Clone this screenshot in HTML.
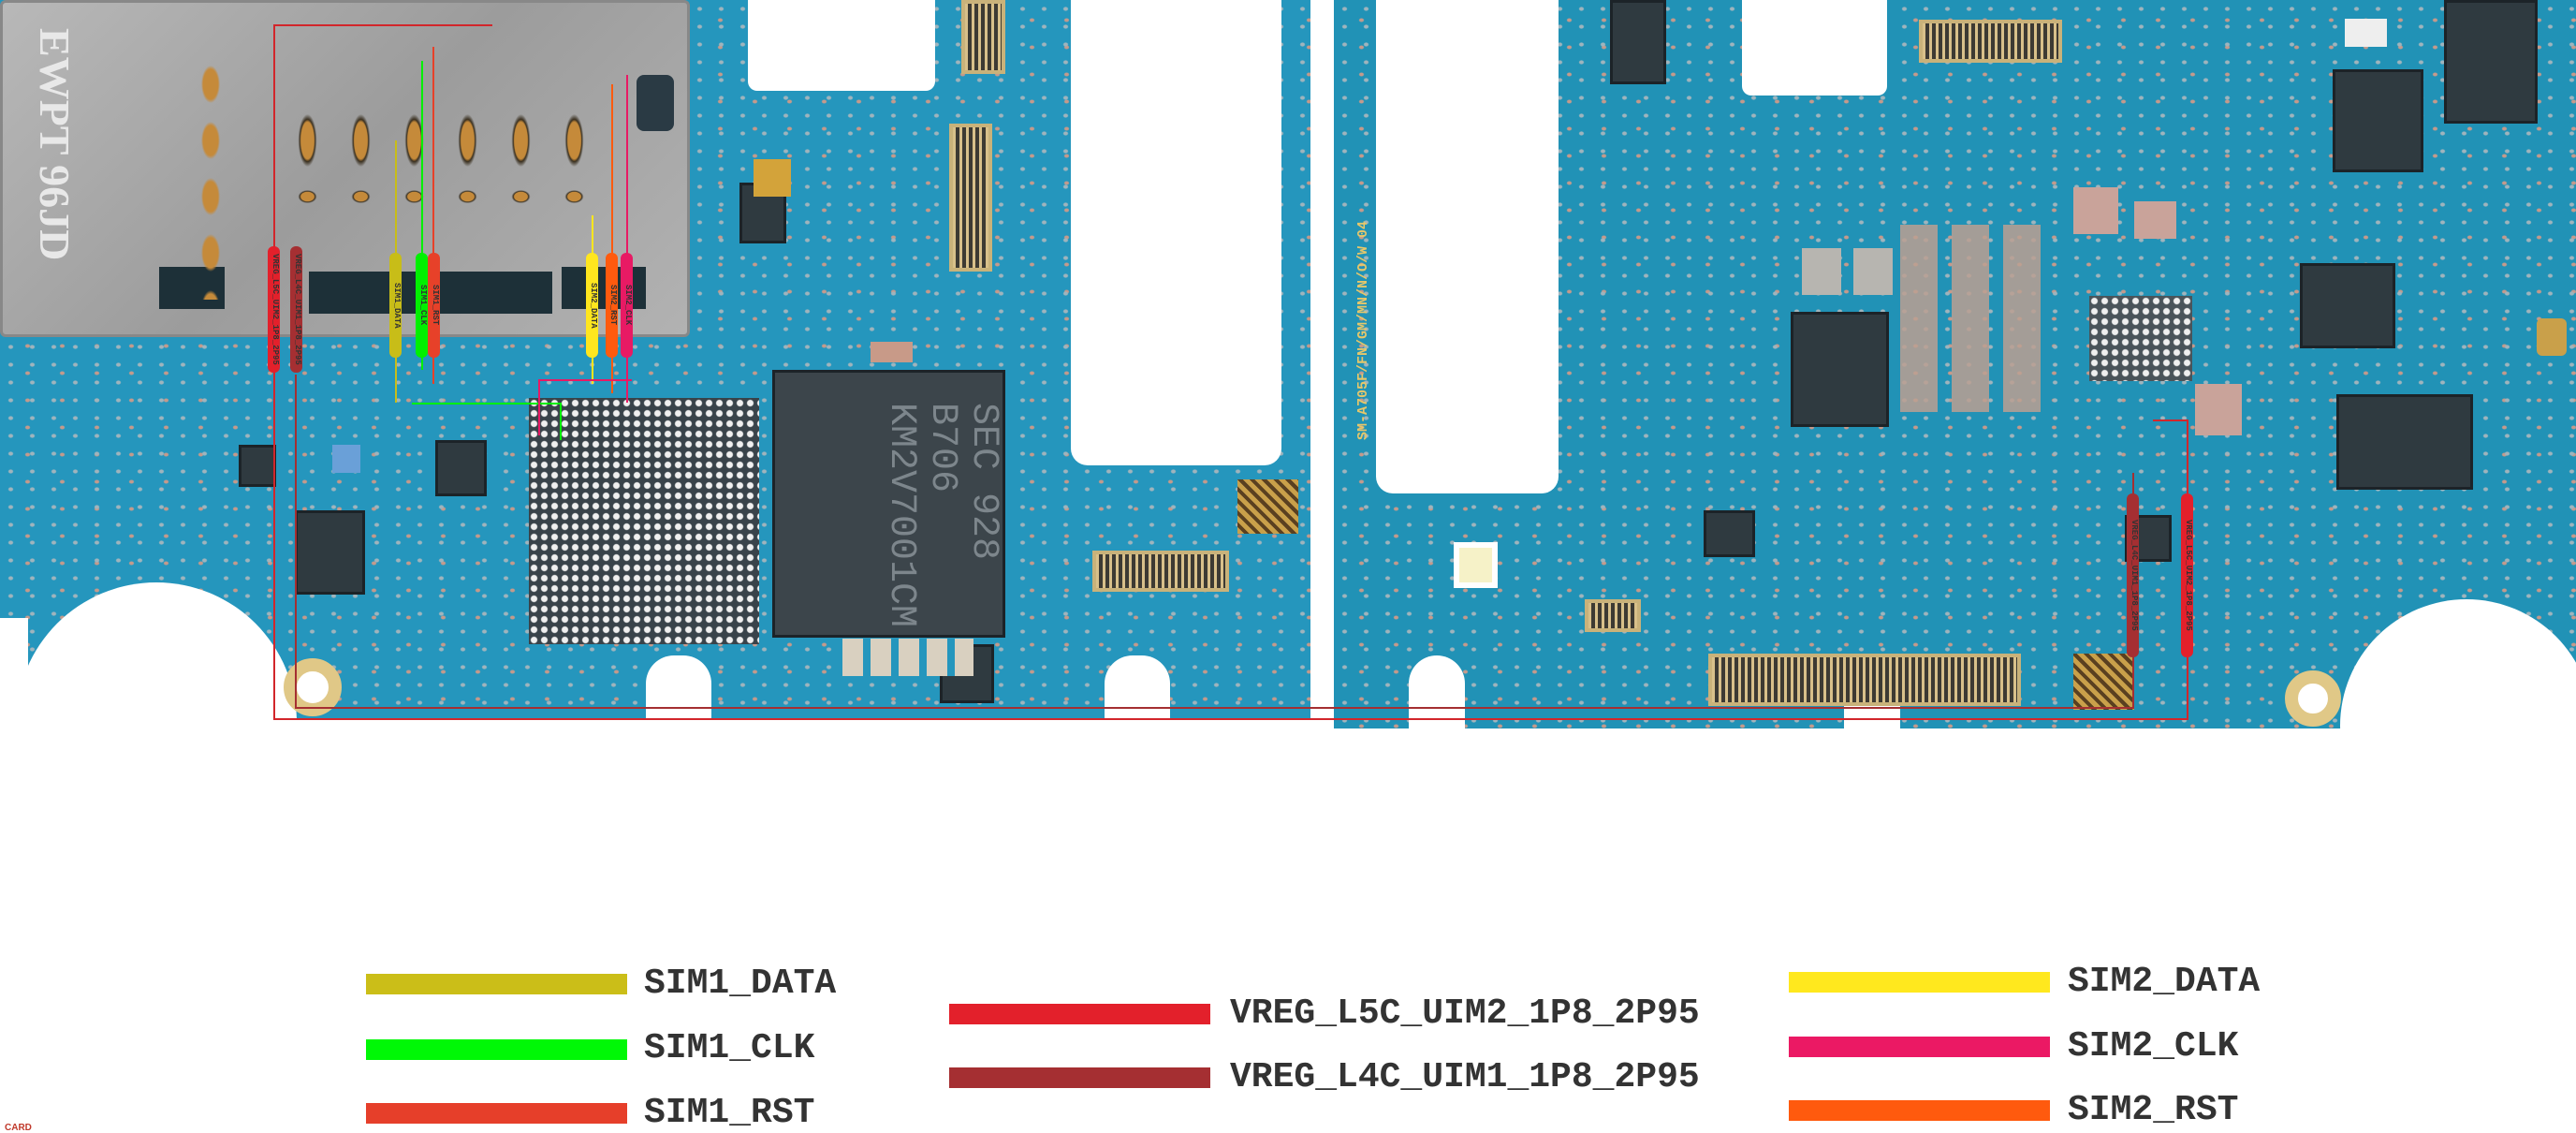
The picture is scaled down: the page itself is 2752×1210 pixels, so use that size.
<!DOCTYPE html>
<html><head><meta charset="utf-8"><style>
*{margin:0;padding:0;box-sizing:border-box}
body{width:2752px;height:1209px;background:#fff;position:relative;overflow:hidden;font-family:"Liberation Sans",sans-serif}
.a{position:absolute}
.board{background:#2596bd;background-image:radial-gradient(#9fb4bd 2px,transparent 3px),radial-gradient(#c49a8c 2px,transparent 3px);background-size:23px 19px,37px 29px;background-position:0 0,11px 7px}
.w{background:#fff;position:absolute}
.chip{position:absolute;background:#2f3a40;border:3px solid #1c2328}
.bga{position:absolute;background-color:#39434a;background-image:radial-gradient(#f0f0f0 3px,transparent 4px);background-size:11px 11px}
.conn{position:absolute;background:#5a5040;border:4px solid #c9b27a;background-image:repeating-linear-gradient(90deg,#d8c08a 0 3px,#3d3a33 3px 7px)}
.lb{position:absolute;width:13px;border-radius:6px;writing-mode:vertical-rl;font:bold 9px "Liberation Mono",monospace;color:#333;text-align:center;overflow:hidden}
.leg{position:absolute;height:22px;width:279px}
.lt{position:absolute;font:bold 38px "Liberation Mono",monospace;color:#333;line-height:38px;white-space:nowrap}
.rl{position:absolute;background:#d2262b}
</style></head><body>
<div class="a board" style="left:0;top:0;width:1400px;height:768px"></div>
<div class="a board" style="left:1425px;top:0;width:1327px;height:778px;background-color:#2192b6"></div>
<div class="w" style="left:799px;top:0;width:200px;height:97px;border-radius:0 0 10px 10px"></div>
<div class="w" style="left:1144px;top:0;width:225px;height:497px;border-radius:0 0 18px 18px"></div>
<div class="w" style="left:1470px;top:0;width:195px;height:527px;border-radius:0 0 18px 18px"></div>
<div class="w" style="left:1861px;top:0;width:155px;height:102px;border-radius:0 0 10px 10px"></div>
<div class="w" style="left:17px;top:622px;width:300px;height:300px;border-radius:50%"></div>
<div class="w" style="left:0;top:660px;width:30px;height:120px"></div>
<div class="w" style="left:2500px;top:640px;width:270px;height:270px;border-radius:50%"></div>
<div class="w" style="left:1400px;top:0;width:25px;height:790px"></div>
<div class="w" style="left:690px;top:700px;width:70px;height:90px;border-radius:30px 30px 0 0"></div>
<div class="w" style="left:1180px;top:700px;width:70px;height:90px;border-radius:30px 30px 0 0"></div>
<div class="w" style="left:1505px;top:700px;width:60px;height:90px;border-radius:30px 30px 0 0"></div>
<div class="w" style="left:1970px;top:712px;width:60px;height:80px;border-radius:30px 30px 0 0"></div>
<div class="a" style="left:303px;top:703px;width:62px;height:62px;border-radius:50%;border:14px solid #e0c887;background:#fff"></div>
<div class="a" style="left:2441px;top:716px;width:60px;height:60px;border-radius:50%;border:14px solid #e0c887;background:#fff"></div>
<div class="a" style="left:0;top:0;width:737px;height:360px;background:linear-gradient(135deg,#b8b8b8,#9c9c9c 50%,#b2b2b2);border:3px solid #888;border-radius:6px"></div>
<div class="a" style="left:25px;top:30px;width:60px;height:230px;font:bold 46px 'Liberation Serif',serif;color:#e8e8e8;writing-mode:vertical-rl;white-space:nowrap">EWPT 96JD</div>
<div class="a" style="left:330px;top:290px;width:260px;height:45px;background:#1d3038"></div>
<div class="a" style="left:170px;top:285px;width:70px;height:45px;background:#1d3038"></div>
<div class="a" style="left:600px;top:285px;width:90px;height:45px;background:#1d3038"></div>
<div class="a" style="left:680px;top:80px;width:40px;height:60px;background:#2a3a44;border-radius:8px"></div>
<div class="a" style="left:210px;top:60px;width:30px;height:260px;background-image:radial-gradient(#c58a3a 8px,transparent 10px);background-size:30px 60px"></div>
<div class="a" style="left:300px;top:70px;width:340px;height:160px;background-image:radial-gradient(#c58a3a 7px,#3a3020 8px,transparent 10px);background-size:57px 160px"></div>
<div class="a" style="left:300px;top:190px;width:340px;height:40px;background-image:radial-gradient(#c58a3a 7px,#3a3020 8px,transparent 10px);background-size:57px 40px"></div>
<div class="bga" style="left:565px;top:425px;width:246px;height:263px"></div>
<div class="chip" style="left:825px;top:395px;width:249px;height:286px;background:#3c454b"></div>
<div class="a" style="left:940px;top:430px;font:40px 'Liberation Mono',monospace;color:#7d868c;writing-mode:vertical-rl;line-height:44px">SEC 928<br>B706<br>KM2V7001CM</div>
<div class="chip" style="left:1004px;top:688px;width:58px;height:63px"></div>
<div class="chip" style="left:315px;top:545px;width:75px;height:90px"></div>
<div class="chip" style="left:465px;top:470px;width:55px;height:60px"></div>
<div class="chip" style="left:790px;top:195px;width:50px;height:65px"></div>
<div class="chip" style="left:255px;top:475px;width:40px;height:45px"></div>
<div class="a" style="left:355px;top:475px;width:30px;height:30px;background:#6aa0d8"></div>
<div class="conn" style="left:1027px;top:0;width:47px;height:79px"></div>
<div class="conn" style="left:1014px;top:132px;width:46px;height:158px"></div>
<div class="conn" style="left:1167px;top:588px;width:146px;height:44px"></div>
<div class="a" style="left:1322px;top:512px;width:65px;height:58px;background:repeating-linear-gradient(45deg,#c9a04a 0 5px,#5a4020 5px 9px)"></div>
<div class="a" style="left:900px;top:682px;width:140px;height:40px;background:repeating-linear-gradient(90deg,#d9d0c0 0 22px,#2596bd 22px 30px)"></div>
<div class="a" style="left:930px;top:365px;width:45px;height:22px;background:#c89a88"></div>
<div class="a" style="left:805px;top:170px;width:40px;height:40px;background:#d3a33a"></div>
<div class="a" style="left:1448px;top:90px;width:18px;height:380px;font:bold 15px 'Liberation Mono',monospace;color:#e6c76a;writing-mode:vertical-rl;transform:rotate(180deg)">SM-A705F/FN/GM/MN/N/O/W 04</div>
<div class="chip" style="left:1913px;top:333px;width:105px;height:123px"></div>
<div class="bga" style="left:2232px;top:316px;width:110px;height:91px;background-color:#4a545a"></div>
<div class="chip" style="left:2492px;top:74px;width:97px;height:110px"></div>
<div class="chip" style="left:2611px;top:0;width:100px;height:132px"></div>
<div class="chip" style="left:2457px;top:281px;width:102px;height:91px"></div>
<div class="chip" style="left:2496px;top:421px;width:146px;height:102px"></div>
<div class="chip" style="left:1720px;top:0;width:60px;height:90px"></div>
<div class="chip" style="left:1820px;top:545px;width:55px;height:50px"></div>
<div class="chip" style="left:2270px;top:550px;width:50px;height:50px"></div>
<div class="conn" style="left:2050px;top:21px;width:153px;height:46px"></div>
<div class="conn" style="left:1825px;top:698px;width:334px;height:56px"></div>
<div class="conn" style="left:1693px;top:640px;width:60px;height:35px"></div>
<div class="a" style="left:2215px;top:698px;width:65px;height:60px;background:repeating-linear-gradient(45deg,#c9a04a 0 5px,#5a4020 5px 9px)"></div>
<div class="a" style="left:1553px;top:579px;width:47px;height:49px;background:#f6f2c8;border:6px solid #fff"></div>
<div class="a" style="left:2030px;top:240px;width:160px;height:200px;background:#bca092;opacity:.85;-webkit-mask:repeating-linear-gradient(90deg,#000 0 40px,transparent 40px 55px)"></div>
<div class="a" style="left:2215px;top:200px;width:48px;height:50px;background:#c9a39a"></div>
<div class="a" style="left:2280px;top:215px;width:45px;height:40px;background:#c9a39a"></div>
<div class="a" style="left:2345px;top:410px;width:50px;height:55px;background:#c9a39a"></div>
<div class="a" style="left:1925px;top:265px;width:42px;height:50px;background:#b7b5b0"></div>
<div class="a" style="left:1980px;top:265px;width:42px;height:50px;background:#b7b5b0"></div>
<div class="a" style="left:2710px;top:340px;width:32px;height:40px;background:#c9a04a;border-radius:6px"></div>
<div class="a" style="left:2505px;top:20px;width:45px;height:30px;background:#eee"></div>
<div class="rl" style="left:292px;top:26px;width:2px;height:742px"></div>
<div class="rl" style="left:292px;top:26px;width:234px;height:2px"></div>
<div class="rl" style="left:292px;top:767px;width:2046px;height:2px"></div>
<div class="rl" style="left:2336px;top:448px;width:2px;height:320px"></div>
<div class="rl" style="left:2300px;top:448px;width:38px;height:2px"></div>
<div class="a" style="left:315px;top:400px;width:2px;height:356px;background:#a52f32"></div>
<div class="a" style="left:315px;top:755px;width:1965px;height:2px;background:#a52f32"></div>
<div class="a" style="left:2278px;top:505px;width:2px;height:252px;background:#a52f32"></div>
<div class="a" style="left:422px;top:150px;width:2px;height:280px;background:#c8bd18"></div>
<div class="a" style="left:450px;top:65px;width:2px;height:330px;background:#00f000"></div>
<div class="a" style="left:462px;top:50px;width:2px;height:360px;background:#e74129"></div>
<div class="a" style="left:632px;top:230px;width:2px;height:180px;background:#ffe61e"></div>
<div class="a" style="left:653px;top:90px;width:2px;height:330px;background:#ff5a0e"></div>
<div class="a" style="left:669px;top:80px;width:2px;height:350px;background:#e81a64"></div>
<div class="a" style="left:440px;top:430px;width:160px;height:40px;border:2px solid #00f000;border-left:none;border-bottom:none"></div>
<div class="a" style="left:575px;top:405px;width:100px;height:60px;border:2px solid #e81a64;border-right:none;border-bottom:none"></div>
<div class="lb" style="left:286px;top:263px;height:135px;background:#e3202b">VREG_L5C_UIM2_1P8_2P95</div>
<div class="lb" style="left:310px;top:263px;height:135px;background:#a52f32">VREG_L4C_UIM1_1P8_2P95</div>
<div class="lb" style="left:416px;top:270px;height:112px;background:#c8bd18">SIM1_DATA</div>
<div class="lb" style="left:444px;top:270px;height:112px;background:#00f000">SIM1_CLK</div>
<div class="lb" style="left:457px;top:270px;height:112px;background:#e74129">SIM1_RST</div>
<div class="lb" style="left:626px;top:270px;height:112px;background:#ffe61e">SIM2_DATA</div>
<div class="lb" style="left:647px;top:270px;height:112px;background:#ff5a0e">SIM2_RST</div>
<div class="lb" style="left:663px;top:270px;height:112px;background:#e81a64">SIM2_CLK</div>
<div class="lb" style="left:2272px;top:527px;height:175px;background:#a52f32">VREG_L4C_UIM1_1P8_2P95</div>
<div class="lb" style="left:2330px;top:527px;height:175px;background:#e3202b">VREG_L5C_UIM2_1P8_2P95</div>
<div class="leg" style="left:391px;top:1040px;background:#cbbe18"></div>
<div class="lt" style="left:688px;top:1032px">SIM1_DATA</div>
<div class="leg" style="left:391px;top:1110px;background:#00f806"></div>
<div class="lt" style="left:688px;top:1101px">SIM1_CLK</div>
<div class="leg" style="left:391px;top:1178px;background:#e63f2a"></div>
<div class="lt" style="left:688px;top:1170px">SIM1_RST</div>
<div class="leg" style="left:1014px;top:1072px;background:#e3202b"></div>
<div class="lt" style="left:1314px;top:1064px">VREG_L5C_UIM2_1P8_2P95</div>
<div class="leg" style="left:1014px;top:1140px;background:#a52f32"></div>
<div class="lt" style="left:1314px;top:1132px">VREG_L4C_UIM1_1P8_2P95</div>
<div class="leg" style="left:1911px;top:1038px;background:#ffe81e"></div>
<div class="lt" style="left:2209px;top:1030px">SIM2_DATA</div>
<div class="leg" style="left:1911px;top:1107px;background:#eb1964"></div>
<div class="lt" style="left:2209px;top:1099px">SIM2_CLK</div>
<div class="leg" style="left:1911px;top:1175px;background:#ff5a0e"></div>
<div class="lt" style="left:2209px;top:1167px">SIM2_RST</div>
<div class="a" style="left:5px;top:1199px;font:bold 10px 'Liberation Sans',sans-serif;color:#c0392b">CARD</div>
</body></html>
